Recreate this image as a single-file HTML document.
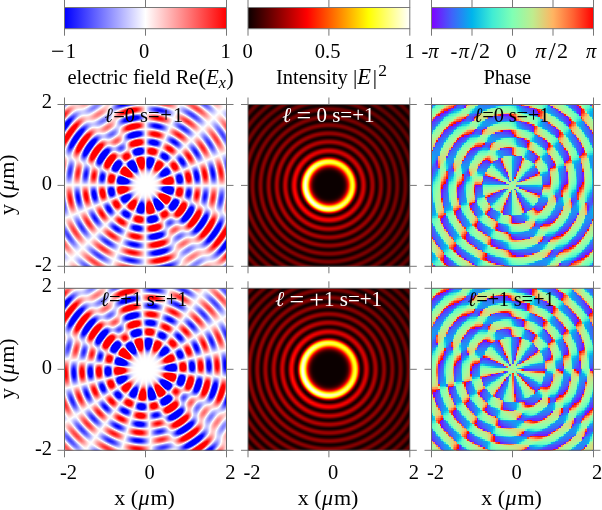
<!DOCTYPE html>
<html><head><meta charset="utf-8">
<style>
html,body{margin:0;padding:0;background:#fff;}
body{width:602px;height:510px;position:relative;overflow:hidden;}
canvas{position:absolute;}
svg{position:absolute;left:0;top:0;}
text{font-family:"Liberation Serif","DejaVu Serif",serif;fill:#000;}
.s20{font-size:20.5px;}
.ax{font-size:22px;}
.lab{font-size:20.5px;}
.lw{fill:#fff;font-size:21px;}
.it{font-style:italic;}
</style></head><body>
<canvas id="p00" width="163" height="163" style="left:64px;top:104px;background:radial-gradient(circle at 81.5px 81.4px,rgb(255,255,255) 0px,rgb(255,255,255) 2px,rgb(255,255,255) 4px,rgb(254,254,254) 6px,rgb(254,253,254) 8px,rgb(252,249,252) 10px,rgb(245,235,245) 12px,rgb(229,203,229) 14px,rgb(200,146,200) 16px,rgb(168,81,168) 18px,rgb(153,51,153) 20px,rgb(147,40,147) 22px,rgb(145,35,145) 24px,rgb(150,44,149) 26px,rgb(170,86,170) 28px,rgb(226,205,233) 30px,rgb(169,100,186) 32px,rgb(147,56,163) 34px,rgb(151,63,167) 36px,rgb(197,145,202) 38px,rgb(237,185,203) 40px,rgb(193,90,151) 42px,rgb(180,72,147) 44px,rgb(196,119,177) 46px,rgb(217,204,242) 48px,rgb(164,120,210) 50px,rgb(149,79,185) 52px,rgb(172,113,195) 54px,rgb(238,207,223) 56px,rgb(219,139,175) 58px,rgb(191,90,153) 60px,rgb(197,115,172) 62px,rgb(225,207,236) 64px,rgb(182,151,224) 66px,rgb(158,99,196) 68px,rgb(175,121,200) 70px,rgb(237,209,226) 72px,rgb(226,158,186) 74px,rgb(199,105,161) 76px,rgb(203,127,179) 78px,rgb(228,212,238) 80px,rgb(187,161,229) 82px,rgb(164,120,211) 84px,rgb(186,148,216) 86px,rgb(241,213,227) 88px,rgb(232,156,178) 90px,rgb(208,108,155) 92px,rgb(212,137,180) 94px,rgb(224,212,243) 96px,rgb(176,157,235) 98px,rgb(162,131,223) 100px,rgb(197,173,231) 102px,rgb(248,221,227) 104px,rgb(246,173,182) 106px,rgb(245,170,180) 108px,rgb(249,214,219) 110px,rgb(233,231,253) 112px,rgb(195,195,254) 114px)""></canvas>
<canvas id="p01" width="162" height="163" style="left:248px;top:104px;background:radial-gradient(circle at 80.9px 81.4px,rgb(11,0,0) 0px,rgb(11,0,0) 1px,rgb(11,0,0) 2px,rgb(11,0,0) 3px,rgb(11,0,0) 4px,rgb(11,0,0) 5px,rgb(11,0,0) 6px,rgb(11,0,0) 7px,rgb(11,0,0) 8px,rgb(11,0,0) 9px,rgb(11,0,0) 10px,rgb(11,0,0) 11px,rgb(12,0,0) 12px,rgb(15,0,0) 13px,rgb(22,0,0) 14px,rgb(36,0,0) 15px,rgb(61,0,0) 16px,rgb(102,0,0) 17px,rgb(164,0,0) 18px,rgb(234,9,0) 19px,rgb(255,85,0) 20px,rgb(255,186,2) 21px,rgb(255,242,50) 22px,rgb(255,254,115) 23px,rgb(255,255,125) 24px,rgb(255,246,55) 25px,rgb(255,176,1) 26px,rgb(249,42,0) 27px,rgb(157,0,0) 28px,rgb(63,0,0) 29px,rgb(26,0,0) 30px,rgb(49,0,0) 31px,rgb(107,0,0) 32px,rgb(175,0,0) 33px,rgb(220,0,0) 34px,rgb(226,0,0) 35px,rgb(188,0,0) 36px,rgb(124,0,0) 37px,rgb(60,0,0) 38px,rgb(25,0,0) 39px,rgb(32,0,0) 40px,rgb(77,0,0) 41px,rgb(133,0,0) 42px,rgb(174,0,0) 43px,rgb(177,0,0) 44px,rgb(143,0,0) 45px,rgb(87,0,0) 46px,rgb(39,0,0) 47px,rgb(21,0,0) 48px,rgb(43,0,0) 49px,rgb(89,0,0) 50px,rgb(136,0,0) 51px,rgb(155,0,0) 52px,rgb(140,0,0) 53px,rgb(96,0,0) 54px,rgb(48,0,0) 55px,rgb(22,0,0) 56px,rgb(31,0,0) 57px,rgb(68,0,0) 58px,rgb(113,0,0) 59px,rgb(138,0,0) 60px,rgb(131,0,0) 61px,rgb(95,0,0) 62px,rgb(51,0,0) 63px,rgb(22,0,0) 64px,rgb(26,0,0) 65px,rgb(58,0,0) 66px,rgb(100,0,0) 67px,rgb(126,0,0) 68px,rgb(122,0,0) 69px,rgb(91,0,0) 70px,rgb(50,0,0) 71px,rgb(22,0,0) 72px,rgb(25,0,0) 73px,rgb(53,0,0) 74px,rgb(93,0,0) 75px,rgb(118,0,0) 76px,rgb(115,0,0) 77px,rgb(84,0,0) 78px,rgb(46,0,0) 79px,rgb(21,0,0) 80px,rgb(24,0,0) 81px,rgb(52,0,0) 82px,rgb(89,0,0) 83px,rgb(112,0,0) 84px,rgb(107,0,0) 85px,rgb(78,0,0) 86px,rgb(42,0,0) 87px,rgb(20,0,0) 88px,rgb(25,0,0) 89px,rgb(54,0,0) 90px,rgb(88,0,0) 91px,rgb(107,0,0) 92px,rgb(100,0,0) 93px,rgb(71,0,0) 94px,rgb(37,0,0) 95px,rgb(19,0,0) 96px,rgb(27,0,0) 97px,rgb(56,0,0) 98px,rgb(88,0,0) 99px,rgb(104,0,0) 100px,rgb(94,0,0) 101px,rgb(64,0,0) 102px,rgb(32,0,0) 103px,rgb(18,0,0) 104px,rgb(29,0,0) 105px,rgb(59,0,0) 106px,rgb(88,0,0) 107px,rgb(101,0,0) 108px,rgb(87,0,0) 109px,rgb(57,0,0) 110px,rgb(29,0,0) 111px,rgb(18,0,0) 112px,rgb(33,0,0) 113px,rgb(62,0,0) 114px)""></canvas>
<canvas id="p02" width="163" height="163" style="left:431px;top:104px;background:radial-gradient(circle at 81.5px 81.4px,rgb(148,253,168) 0px,rgb(167,245,156) 2px,rgb(153,221,169) 4px,rgb(151,209,167) 6px,rgb(128,176,186) 8px,rgb(124,176,184) 10px,rgb(119,172,195) 12px,rgb(126,168,186) 14px,rgb(122,165,195) 16px,rgb(121,168,193) 18px,rgb(123,169,187) 20px,rgb(120,169,192) 22px,rgb(119,170,192) 24px,rgb(126,169,184) 26px,rgb(123,169,188) 28px,rgb(106,158,196) 30px,rgb(114,158,193) 32px,rgb(113,156,194) 34px,rgb(117,150,194) 36px,rgb(147,152,166) 38px,rgb(162,207,155) 40px,rgb(145,207,170) 42px,rgb(135,195,176) 44px,rgb(119,182,189) 46px,rgb(83,153,206) 48px,rgb(97,135,203) 50px,rgb(111,143,196) 52px,rgb(128,142,187) 54px,rgb(171,175,147) 56px,rgb(147,211,169) 58px,rgb(135,199,177) 60px,rgb(124,185,185) 62px,rgb(92,162,200) 64px,rgb(94,136,208) 66px,rgb(109,140,197) 68px,rgb(128,143,185) 70px,rgb(165,171,151) 72px,rgb(148,211,166) 74px,rgb(137,198,175) 76px,rgb(124,185,186) 78px,rgb(94,160,201) 80px,rgb(89,145,211) 82px,rgb(98,150,202) 84px,rgb(116,151,193) 86px,rgb(167,173,147) 88px,rgb(138,213,174) 90px,rgb(114,203,192) 92px,rgb(93,195,208) 94px,rgb(90,158,205) 96px,rgb(121,114,200) 98px,rgb(153,103,177) 100px,rgb(189,101,137) 102px,rgb(185,183,126) 104px,rgb(108,234,188) 106px,rgb(92,235,197) 108px,rgb(71,230,208) 110px,rgb(87,152,202) 112px,rgb(168,80,148) 114px)""></canvas>
<canvas id="p10" width="163" height="163" style="left:64px;top:288px;background:radial-gradient(circle at 81.5px 81.3px,rgb(255,255,255) 0px,rgb(255,255,255) 2px,rgb(255,255,255) 4px,rgb(255,255,255) 6px,rgb(254,254,254) 8px,rgb(254,253,254) 10px,rgb(251,248,251) 12px,rgb(245,235,245) 14px,rgb(231,208,231) 16px,rgb(205,158,207) 18px,rgb(175,92,172) 20px,rgb(154,54,155) 22px,rgb(147,40,147) 24px,rgb(144,35,145) 26px,rgb(148,39,145) 28px,rgb(160,62,156) 30px,rgb(214,176,216) 32px,rgb(190,152,217) 34px,rgb(148,65,171) 36px,rgb(144,56,166) 38px,rgb(163,92,183) 40px,rgb(235,200,219) 42px,rgb(214,127,168) 44px,rgb(184,73,143) 46px,rgb(181,81,155) 48px,rgb(214,171,211) 50px,rgb(195,175,234) 52px,rgb(152,93,196) 54px,rgb(153,83,184) 56px,rgb(198,152,209) 58px,rgb(242,197,210) 60px,rgb(203,109,160) 62px,rgb(189,89,154) 64px,rgb(208,146,193) 66px,rgb(218,207,244) 68px,rgb(166,122,210) 70px,rgb(158,95,192) 72px,rgb(192,146,208) 74px,rgb(244,211,222) 76px,rgb(214,131,172) 78px,rgb(196,101,160) 80px,rgb(210,148,192) 82px,rgb(220,211,246) 84px,rgb(168,136,222) 86px,rgb(159,114,209) 88px,rgb(196,159,217) 90px,rgb(248,210,217) 92px,rgb(228,144,171) 94px,rgb(212,122,165) 96px,rgb(222,168,200) 98px,rgb(215,208,247) 100px,rgb(163,136,228) 102px,rgb(158,116,212) 104px,rgb(207,176,224) 106px,rgb(244,203,213) 108px,rgb(222,125,158) 110px,rgb(222,120,152) 112px,rgb(227,176,203) 114px)""></canvas>
<canvas id="p11" width="162" height="163" style="left:248px;top:288px;background:radial-gradient(circle at 80.9px 81.3px,rgb(11,0,0) 0px,rgb(11,0,0) 1px,rgb(11,0,0) 2px,rgb(11,0,0) 3px,rgb(11,0,0) 4px,rgb(11,0,0) 5px,rgb(11,0,0) 6px,rgb(11,0,0) 7px,rgb(11,0,0) 8px,rgb(11,0,0) 9px,rgb(11,0,0) 10px,rgb(11,0,0) 11px,rgb(11,0,0) 12px,rgb(11,0,0) 13px,rgb(12,0,0) 14px,rgb(15,0,0) 15px,rgb(20,0,0) 16px,rgb(32,0,0) 17px,rgb(52,0,0) 18px,rgb(85,0,0) 19px,rgb(135,0,0) 20px,rgb(203,0,0) 21px,rgb(251,39,0) 22px,rgb(255,134,0) 23px,rgb(255,219,16) 24px,rgb(255,251,81) 25px,rgb(255,255,127) 26px,rgb(255,254,109) 27px,rgb(255,234,30) 28px,rgb(255,139,0) 29px,rgb(237,18,0) 30px,rgb(130,0,0) 31px,rgb(47,0,0) 32px,rgb(26,0,0) 33px,rgb(57,0,0) 34px,rgb(121,0,0) 35px,rgb(188,0,0) 36px,rgb(230,1,0) 37px,rgb(231,1,0) 38px,rgb(190,0,0) 39px,rgb(122,0,0) 40px,rgb(59,0,0) 41px,rgb(25,0,0) 42px,rgb(33,0,0) 43px,rgb(79,0,0) 44px,rgb(137,0,0) 45px,rgb(179,0,0) 46px,rgb(185,0,0) 47px,rgb(152,0,0) 48px,rgb(95,0,0) 49px,rgb(44,0,0) 50px,rgb(22,0,0) 51px,rgb(40,0,0) 52px,rgb(86,0,0) 53px,rgb(136,0,0) 54px,rgb(162,0,0) 55px,rgb(151,0,0) 56px,rgb(108,0,0) 57px,rgb(58,0,0) 58px,rgb(25,0,0) 59px,rgb(27,0,0) 60px,rgb(61,0,0) 61px,rgb(108,0,0) 62px,rgb(141,0,0) 63px,rgb(143,0,0) 64px,rgb(110,0,0) 65px,rgb(64,0,0) 66px,rgb(28,0,0) 67px,rgb(22,0,0) 68px,rgb(49,0,0) 69px,rgb(92,0,0) 70px,rgb(127,0,0) 71px,rgb(133,0,0) 72px,rgb(107,0,0) 73px,rgb(65,0,0) 74px,rgb(29,0,0) 75px,rgb(21,0,0) 76px,rgb(43,0,0) 77px,rgb(84,0,0) 78px,rgb(118,0,0) 79px,rgb(126,0,0) 80px,rgb(103,0,0) 81px,rgb(63,0,0) 82px,rgb(29,0,0) 83px,rgb(20,0,0) 84px,rgb(41,0,0) 85px,rgb(79,0,0) 86px,rgb(111,0,0) 87px,rgb(119,0,0) 88px,rgb(97,0,0) 89px,rgb(59,0,0) 90px,rgb(27,0,0) 91px,rgb(20,0,0) 92px,rgb(41,0,0) 93px,rgb(77,0,0) 94px,rgb(108,0,0) 95px,rgb(113,0,0) 96px,rgb(91,0,0) 97px,rgb(54,0,0) 98px,rgb(25,0,0) 99px,rgb(20,0,0) 100px,rgb(42,0,0) 101px,rgb(78,0,0) 102px,rgb(105,0,0) 103px,rgb(108,0,0) 104px,rgb(85,0,0) 105px,rgb(50,0,0) 106px,rgb(23,0,0) 107px,rgb(21,0,0) 108px,rgb(45,0,0) 109px,rgb(80,0,0) 110px,rgb(103,0,0) 111px,rgb(102,0,0) 112px,rgb(79,0,0) 113px,rgb(47,0,0) 114px)""></canvas>
<canvas id="p12" width="163" height="163" style="left:431px;top:288px;background:radial-gradient(circle at 81.5px 81.3px,rgb(173,243,153) 0px,rgb(168,244,155) 2px,rgb(167,225,154) 4px,rgb(144,193,168) 6px,rgb(143,185,174) 8px,rgb(132,169,178) 10px,rgb(126,167,183) 12px,rgb(121,168,189) 14px,rgb(124,168,186) 16px,rgb(120,168,190) 18px,rgb(123,167,189) 20px,rgb(122,168,188) 22px,rgb(120,170,193) 24px,rgb(124,168,187) 26px,rgb(125,170,185) 28px,rgb(124,172,188) 30px,rgb(112,157,194) 32px,rgb(99,146,200) 34px,rgb(107,151,199) 36px,rgb(112,148,197) 38px,rgb(128,146,185) 40px,rgb(174,175,142) 42px,rgb(149,211,166) 44px,rgb(140,201,172) 46px,rgb(128,187,181) 48px,rgb(108,169,193) 50px,rgb(84,144,210) 52px,rgb(102,139,201) 54px,rgb(118,145,192) 56px,rgb(145,149,169) 58px,rgb(165,204,151) 60px,rgb(142,207,171) 62px,rgb(134,192,176) 64px,rgb(117,176,189) 66px,rgb(84,147,208) 68px,rgb(100,136,204) 70px,rgb(115,143,193) 72px,rgb(136,145,179) 74px,rgb(171,196,146) 76px,rgb(143,208,171) 78px,rgb(134,194,178) 80px,rgb(118,178,191) 82px,rgb(93,150,199) 84px,rgb(100,139,205) 86px,rgb(111,142,197) 88px,rgb(138,147,178) 90px,rgb(165,193,148) 92px,rgb(140,206,172) 94px,rgb(129,188,179) 96px,rgb(118,176,191) 98px,rgb(91,158,204) 100px,rgb(89,143,216) 102px,rgb(105,141,202) 104px,rgb(138,142,177) 106px,rgb(158,190,156) 108px,rgb(150,210,170) 110px,rgb(153,209,170) 112px,rgb(124,184,194) 114px)""></canvas>
<svg width="602" height="510" viewBox="0 0 602 510">
<defs>
<linearGradient id="gbwr"><stop offset="0" stop-color="#0000ff"/><stop offset="0.5" stop-color="#ffffff"/><stop offset="1" stop-color="#ff0000"/></linearGradient>
<linearGradient id="ghot"><stop offset="0" stop-color="#0b0000"/><stop offset="0.365" stop-color="#ff0000"/><stop offset="0.746" stop-color="#ffff00"/><stop offset="1" stop-color="#ffffff"/></linearGradient>
<linearGradient id="grain">
<stop offset="0" stop-color="rgb(128,0,255)"/>
<stop offset="0.125" stop-color="rgb(64,98,250)"/>
<stop offset="0.25" stop-color="rgb(0,180,236)"/>
<stop offset="0.375" stop-color="rgb(64,236,212)"/>
<stop offset="0.5" stop-color="rgb(128,255,180)"/>
<stop offset="0.625" stop-color="rgb(191,236,142)"/>
<stop offset="0.75" stop-color="rgb(255,180,98)"/>
<stop offset="0.875" stop-color="rgb(255,98,50)"/>
<stop offset="1" stop-color="rgb(255,0,0)"/>
</linearGradient>
</defs>
<rect x="64.5" y="7.5" width="162" height="21.2" fill="url(#gbwr)" stroke="#777" stroke-width="1"/>
<rect x="248" y="7.5" width="161.8" height="21.2" fill="url(#ghot)" stroke="#777" stroke-width="1"/>
<rect x="431.5" y="7.5" width="162" height="21.2" fill="url(#grain)" stroke="#777" stroke-width="1"/>
<g fill="none" stroke="#666" stroke-width="1"><rect x="64.5" y="104.5" width="162" height="161.8"/><rect x="248" y="104.5" width="161.8" height="161.8"/><rect x="431.5" y="104.5" width="162" height="161.8"/><rect x="64.5" y="288.3" width="162" height="162"/><rect x="248" y="288.3" width="161.8" height="162"/><rect x="431.5" y="288.3" width="162" height="162"/></g>
<g stroke="#777" stroke-width="1"><line x1="64.5" y1="97.5" x2="64.5" y2="104.5"/><line x1="64.5" y1="266.3" x2="64.5" y2="273.3"/><line x1="57.5" y1="104.5" x2="64.5" y2="104.5"/><line x1="226.5" y1="104.5" x2="233.5" y2="104.5"/><line x1="145.5" y1="97.5" x2="145.5" y2="104.5"/><line x1="145.5" y1="266.3" x2="145.5" y2="273.3"/><line x1="57.5" y1="185.4" x2="64.5" y2="185.4"/><line x1="226.5" y1="185.4" x2="233.5" y2="185.4"/><line x1="226.5" y1="97.5" x2="226.5" y2="104.5"/><line x1="226.5" y1="266.3" x2="226.5" y2="273.3"/><line x1="57.5" y1="266.3" x2="64.5" y2="266.3"/><line x1="226.5" y1="266.3" x2="233.5" y2="266.3"/><line x1="248" y1="97.5" x2="248" y2="104.5"/><line x1="248" y1="266.3" x2="248" y2="273.3"/><line x1="241" y1="104.5" x2="248" y2="104.5"/><line x1="409.8" y1="104.5" x2="416.8" y2="104.5"/><line x1="328.9" y1="97.5" x2="328.9" y2="104.5"/><line x1="328.9" y1="266.3" x2="328.9" y2="273.3"/><line x1="241" y1="185.4" x2="248" y2="185.4"/><line x1="409.8" y1="185.4" x2="416.8" y2="185.4"/><line x1="409.8" y1="97.5" x2="409.8" y2="104.5"/><line x1="409.8" y1="266.3" x2="409.8" y2="273.3"/><line x1="241" y1="266.3" x2="248" y2="266.3"/><line x1="409.8" y1="266.3" x2="416.8" y2="266.3"/><line x1="431.5" y1="97.5" x2="431.5" y2="104.5"/><line x1="431.5" y1="266.3" x2="431.5" y2="273.3"/><line x1="424.5" y1="104.5" x2="431.5" y2="104.5"/><line x1="593.5" y1="104.5" x2="600.5" y2="104.5"/><line x1="512.5" y1="97.5" x2="512.5" y2="104.5"/><line x1="512.5" y1="266.3" x2="512.5" y2="273.3"/><line x1="424.5" y1="185.4" x2="431.5" y2="185.4"/><line x1="593.5" y1="185.4" x2="600.5" y2="185.4"/><line x1="593.5" y1="97.5" x2="593.5" y2="104.5"/><line x1="593.5" y1="266.3" x2="593.5" y2="273.3"/><line x1="424.5" y1="266.3" x2="431.5" y2="266.3"/><line x1="593.5" y1="266.3" x2="600.5" y2="266.3"/><line x1="64.5" y1="281.3" x2="64.5" y2="288.3"/><line x1="64.5" y1="450.3" x2="64.5" y2="457.3"/><line x1="57.5" y1="288.3" x2="64.5" y2="288.3"/><line x1="226.5" y1="288.3" x2="233.5" y2="288.3"/><line x1="145.5" y1="281.3" x2="145.5" y2="288.3"/><line x1="145.5" y1="450.3" x2="145.5" y2="457.3"/><line x1="57.5" y1="369.3" x2="64.5" y2="369.3"/><line x1="226.5" y1="369.3" x2="233.5" y2="369.3"/><line x1="226.5" y1="281.3" x2="226.5" y2="288.3"/><line x1="226.5" y1="450.3" x2="226.5" y2="457.3"/><line x1="57.5" y1="450.3" x2="64.5" y2="450.3"/><line x1="226.5" y1="450.3" x2="233.5" y2="450.3"/><line x1="248" y1="281.3" x2="248" y2="288.3"/><line x1="248" y1="450.3" x2="248" y2="457.3"/><line x1="241" y1="288.3" x2="248" y2="288.3"/><line x1="409.8" y1="288.3" x2="416.8" y2="288.3"/><line x1="328.9" y1="281.3" x2="328.9" y2="288.3"/><line x1="328.9" y1="450.3" x2="328.9" y2="457.3"/><line x1="241" y1="369.3" x2="248" y2="369.3"/><line x1="409.8" y1="369.3" x2="416.8" y2="369.3"/><line x1="409.8" y1="281.3" x2="409.8" y2="288.3"/><line x1="409.8" y1="450.3" x2="409.8" y2="457.3"/><line x1="241" y1="450.3" x2="248" y2="450.3"/><line x1="409.8" y1="450.3" x2="416.8" y2="450.3"/><line x1="431.5" y1="281.3" x2="431.5" y2="288.3"/><line x1="431.5" y1="450.3" x2="431.5" y2="457.3"/><line x1="424.5" y1="288.3" x2="431.5" y2="288.3"/><line x1="593.5" y1="288.3" x2="600.5" y2="288.3"/><line x1="512.5" y1="281.3" x2="512.5" y2="288.3"/><line x1="512.5" y1="450.3" x2="512.5" y2="457.3"/><line x1="424.5" y1="369.3" x2="431.5" y2="369.3"/><line x1="593.5" y1="369.3" x2="600.5" y2="369.3"/><line x1="593.5" y1="281.3" x2="593.5" y2="288.3"/><line x1="593.5" y1="450.3" x2="593.5" y2="457.3"/><line x1="424.5" y1="450.3" x2="431.5" y2="450.3"/><line x1="593.5" y1="450.3" x2="600.5" y2="450.3"/><line x1="64.5" y1="0" x2="64.5" y2="7.5"/><line x1="64.5" y1="28.7" x2="64.5" y2="35.7"/><line x1="145.5" y1="0" x2="145.5" y2="7.5"/><line x1="145.5" y1="28.7" x2="145.5" y2="35.7"/><line x1="226.5" y1="0" x2="226.5" y2="7.5"/><line x1="226.5" y1="28.7" x2="226.5" y2="35.7"/><line x1="248" y1="0" x2="248" y2="7.5"/><line x1="248" y1="28.7" x2="248" y2="35.7"/><line x1="328.9" y1="0" x2="328.9" y2="7.5"/><line x1="328.9" y1="28.7" x2="328.9" y2="35.7"/><line x1="409.8" y1="0" x2="409.8" y2="7.5"/><line x1="409.8" y1="28.7" x2="409.8" y2="35.7"/><line x1="431.5" y1="0" x2="431.5" y2="7.5"/><line x1="431.5" y1="28.7" x2="431.5" y2="35.7"/><line x1="472" y1="0" x2="472" y2="7.5"/><line x1="472" y1="28.7" x2="472" y2="35.7"/><line x1="512.5" y1="0" x2="512.5" y2="7.5"/><line x1="512.5" y1="28.7" x2="512.5" y2="35.7"/><line x1="553" y1="0" x2="553" y2="7.5"/><line x1="553" y1="28.7" x2="553" y2="35.7"/><line x1="593.5" y1="0" x2="593.5" y2="7.5"/><line x1="593.5" y1="28.7" x2="593.5" y2="35.7"/></g>
<g class="s20" text-anchor="middle">
<text x="63.5" y="58"><tspan font-size="24" dy="0.9">−</tspan><tspan dy="-0.9" dx="1">1</tspan></text><text x="144.2" y="58">0</text><text x="225.6" y="58">1</text>
<text x="247.5" y="58">0</text><text x="327.6" y="58">0.5</text><text x="409.6" y="58">1</text>
</g>
<g class="s20">
<text x="421.5" y="58">-<tspan class="it">π</tspan></text>
<text x="450.5" y="58">-<tspan class="it" dx="1.5">π</tspan><tspan dx="2" font-size="26" dy="2">/</tspan><tspan dy="-2" dx="0.6" font-size="22">2</tspan></text>
<text x="506.2" y="58">0</text>
<text x="535.2" y="58"><tspan class="it" font-size="22">π</tspan><tspan dx="2.3" font-size="26" dy="2">/</tspan><tspan dy="-2" dx="1.2" font-size="22">2</tspan></text>
<text x="586" y="58" class="it">π</text>
</g>
<g class="s20">
<text x="67.5" y="84.4">electric field Re<tspan font-size="22.5" dy="0.6">(</tspan><tspan class="it" font-size="21" dy="-0.6">E</tspan><tspan class="it" font-size="16" dy="3.8">x</tspan><tspan font-size="22.5" dy="-3.2" dx="0.5">)</tspan></text>
<text x="276" y="84.4">Intensity <tspan font-size="21.5">|</tspan><tspan class="it" font-size="22.5">E</tspan><tspan font-size="21.5" dx="1.8">|</tspan><tspan font-size="17.5" dy="-8.5" dx="1.2">2</tspan></text>
<text x="483.4" y="83.8">Phase</text>
</g>
<g class="s20" text-anchor="end">
<text x="52" y="108.4">2</text><text x="52" y="190">0</text><text x="52" y="271">-2</text>
<text x="52" y="292.3">2</text><text x="52" y="374">0</text><text x="52" y="455">-2</text>
</g>
<g class="s20" text-anchor="middle">
<text x="68.5" y="479">-2</text><text x="149.7" y="479">0</text><text x="230.4" y="479">2</text>
<text x="252" y="479">-2</text><text x="333" y="479">0</text><text x="413.8" y="479">2</text>
<text x="435.5" y="479">-2</text><text x="516.6" y="479">0</text><text x="597" y="479">2</text>
</g>
<g class="ax" text-anchor="middle">
<text x="144.6" y="504.8">x (<tspan class="it" dx="0.5">μ</tspan><tspan dx="0.8">m)</tspan></text>
<text x="328.1" y="504.8">x (<tspan class="it" dx="0.5">μ</tspan><tspan dx="0.8">m)</tspan></text>
<text x="511.6" y="504.8">x (<tspan class="it" dx="0.5">μ</tspan><tspan dx="0.8">m)</tspan></text>
<text transform="translate(14,184.6) rotate(-90)">y (<tspan class="it" dx="0.5">μ</tspan><tspan dx="0.8">m)</tspan></text>
<text transform="translate(14,368.6) rotate(-90)">y (<tspan class="it" dx="0.5">μ</tspan><tspan dx="0.8">m)</tspan></text>
</g>
<g class="lab">
<text x="104.6" y="122.3"><tspan class="it">ℓ</tspan>=0 s=<tspan dx="0.5">+</tspan><tspan dx="1.2">1</tspan></text>
<text x="282.3" y="122.4" class="lw"><tspan class="it" font-size="21.5">ℓ</tspan> <tspan font-size="26" dy="1.6">=</tspan><tspan dy="-1.6"> 0 s=+1</tspan></text>
<text x="474" y="122.3" style="letter-spacing:-0.2px"><tspan class="it">ℓ</tspan>=0 s=+1</text>
<text x="100.6" y="306.3" style="letter-spacing:-0.2px"><tspan class="it">ℓ</tspan>=+1 s=+1</text>
<text x="275.2" y="306.4" class="lw"><tspan class="it" font-size="21.5">ℓ</tspan> <tspan font-size="26" dy="1.6">=</tspan><tspan dy="-1.6"> </tspan><tspan font-size="26" dy="1.6">+</tspan><tspan dy="-1.6">1 s=+1</tspan></text>
<text x="467.8" y="306.3" style="letter-spacing:-0.2px"><tspan class="it">ℓ</tspan>=+1 s=+1</text>
</g>

</svg>
<script>
(function(){
var P={"K": 16.5, "m": [8, 9], "rot": [11.0, 23.5], "vmax": 0.4, "aniso": 0.25, "anisoAng": 135.0, "a0": 0.6, "aang": 135.0, "r0": 0.6, "r1": 1.1, "qsh": 0.4, "fw": 0.0, "icoef": 0.9, "igain": 0.23, "g0": 0.745, "idel": 0.12, "iang": 210.0, "z1": [12.225, 13.354], "pb1": 0.3, "pb2": 0.22, "pa0": 0.9, "pfw": 0.6, "pr0": 0.6, "pr1": 1.0, "pc": 1.5, "prc": 0.15, "palpha": 0.62, "pt": 0.175, "pgrid": 100, "smooth": 1, "cols": [[64.5, 226.5], [248.0, 409.8], [431.5, 593.5]], "rows": [[104.5, 266.3], [288.3, 450.3]]};
function besselTable(m,xmax,n){var t=new Float64Array(n+1),N=240;for(var i=0;i<=n;i++){var x=xmax*i/n,s=0;for(var j=0;j<=N;j++){var tau=Math.PI*j/N,w=(j==0||j==N)?0.5:1;s+=w*Math.cos(m*tau-x*Math.sin(tau));}t[i]=s/N;}return t;}
function lerp(t,x,xmax,n){var f=x/xmax*n,i=Math.floor(f);if(i>=n)return t[n];if(i<0)return t[0];var a=f-i;return t[i]*(1-a)+t[i+1]*a;}
function clamp(v){return v<0?0:v>1?1:v;}
function ss(a,b,x){var t=clamp((x-a)/(b-a));return t*t*(3-2*t);}
function bwr(v){v=clamp(v);if(v<0.5){var a=v*2;return [a*255,a*255,255];}var b=(1-v)*2;return [255,b*255,b*255];}
function hot(v){v=clamp(v);var r=v<0.365079?0.0416+(1-0.0416)*v/0.365079:1;var g=v<0.365079?0:v<0.746032?(v-0.365079)/(0.746032-0.365079):1;var b=v<0.746032?0:(v-0.746032)/(1-0.746032);return [r*255,g*255,b*255];}
function rainbow(v){v=clamp(v);return [clamp(Math.abs(2*v-0.5))*255,Math.sin(Math.PI*v)*255,Math.cos(Math.PI*v/2)*255];}
var XM=60,NT=6000,D2R=Math.PI/180;
for(var row=0;row<2;row++){
 var z1=P.z1[row], m=P.m[row], ph0=-m*P.rot[row]*D2R, T=besselTable(m,XM,NT);
 var jmax=0;for(var i=0;i<=NT;i++)jmax=Math.max(jmax,Math.abs(T[i]));
 for(var col=0;col<3;col++){
  var cv=document.getElementById('p'+row+col), f=[P.cols[col][0],P.rows[row][0],P.cols[col][1],P.rows[row][1]];
  var L=parseInt(cv.style.left),Tp=parseInt(cv.style.top),W=cv.width,H=cv.height;
  var ctx=cv.getContext('2d'),im=ctx.createImageData(W,H),d=im.data;
  var val=function(x,y){
   var r=Math.sqrt(x*x+y*y), phi=Math.atan2(y,x);
   var J=lerp(T,P.K*r,XM,NT)/jmax;
   if(col==1) return J*J*(r*P.K<z1?1:P.g0+P.igain*Math.max(0,r-0.85))*(1+P.idel*Math.cos(phi-P.iang*D2R));
   var ang=m*phi+ph0, ca=Math.cos(ang), sa=Math.sin(ang);
   var env=1+P.aniso*Math.cos(2*(phi-P.anisoAng*D2R));
   var S=ss(P.r0,P.r1,r), aa=P.a0*S*clamp(P.fw+Math.cos(2*(phi-P.aang*D2R)));
   var Q=lerp(T,P.K*r+P.qsh,XM,NT)/jmax;
   var A=(J*ca+aa*Q)*env/(1+0.5*aa);
   if(col==0) return A;
   var Sp=ss(P.pr0,P.pr1,r); aa=P.pa0*Sp*clamp(P.pfw+Math.cos(2*(phi-P.aang*D2R)));
   A=(J*ca+aa*Q)*env/(1+0.5*aa)+P.pc*Math.abs(J)*Math.exp(-r*r/(P.prc*P.prc));
   var Jq=lerp(T,P.K*r+Math.PI/2,XM,NT)/jmax;
   var Qq=lerp(T,P.K*r+P.qsh+Math.PI/2,XM,NT)/jmax;
   var B=P.pb1*J*sa*env+P.pb2*Sp*(Jq*ca+aa*Qq)*env/(1+0.5*aa);
   var ph=Math.atan2(B-P.pt*Math.abs(A),A)+P.palpha;
   return ph-2*Math.PI*Math.floor((ph+Math.PI)/(2*Math.PI));
  };
  var G=P.pgrid, grid=null;
  if(col<2&&P.smooth){grid=new Float64Array((G+2)*(G+2));for(var j=0;j<G+2;j++)for(var i=0;i<G+2;i++){grid[j*(G+2)+i]=val(-2+4*(i-0.5)/G,-2+4*(j-0.5)/G);}}
  for(var py=0;py<H;py++)for(var px=0;px<W;px++){
   var sx=L+px+0.5, sy=Tp+py+0.5;
   var x=-2+4*(sx-f[0])/(f[2]-f[0]), y=2-4*(sy-f[1])/(f[3]-f[1]);
   var v;
   if(col==2){x=-2+4*(Math.floor((x+2)/4*G)+0.5)/G;y=-2+4*(Math.floor((y+2)/4*G)+0.5)/G;v=val(x,y);}
   else if(grid){var gx=(x+2)/4*G+0.5,gy=(y+2)/4*G+0.5;gx=Math.max(0,Math.min(G+0.999,gx));gy=Math.max(0,Math.min(G+0.999,gy));var ix=Math.floor(gx),iy=Math.floor(gy),fx=gx-ix,fy=gy-iy,k=iy*(G+2)+ix;
     v=(grid[k]*(1-fx)+grid[k+1]*fx)*(1-fy)+(grid[k+G+2]*(1-fx)+grid[k+G+3]*fx)*fy;}
   else v=val(x,y);
   var c=col==0?bwr(0.5+0.5*v/P.vmax):col==1?hot(P.icoef*v):rainbow((v+Math.PI)/(2*Math.PI));
   var o=(py*W+px)*4;d[o]=c[0];d[o+1]=c[1];d[o+2]=c[2];d[o+3]=255;
  }
  ctx.putImageData(im,0,0);
 }
}
})();
</script>
</body></html>
